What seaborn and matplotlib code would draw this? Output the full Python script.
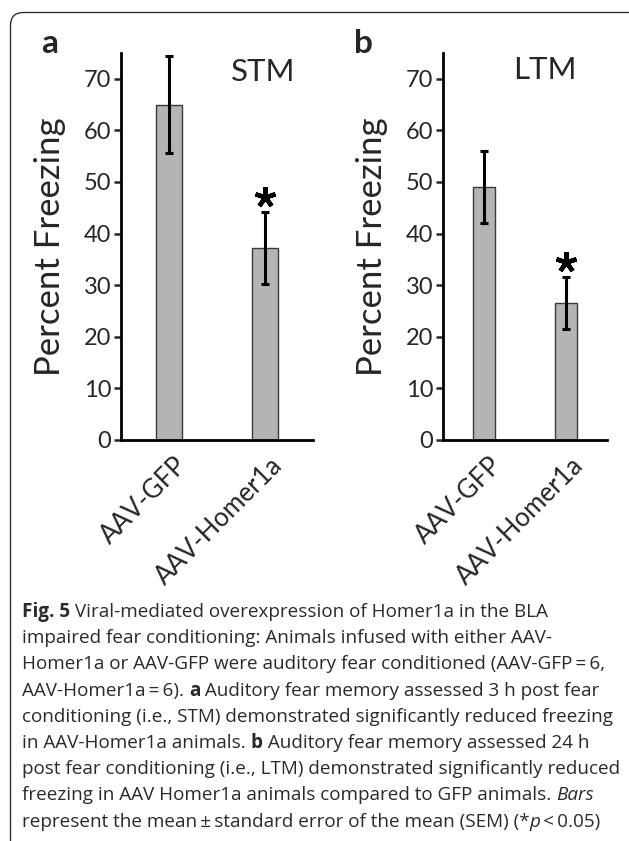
import matplotlib
matplotlib.use("Agg")
import matplotlib.pyplot as plt
import seaborn as sns
import pandas as pd
from matplotlib.patches import FancyBboxPatch

# ---- data ----
groups = ["AAV-GFP", "AAV-Homer1a"]
stm_mean = [65.0, 37.2]
stm_sem = [9.4, 7.0]
ltm_mean = [49.0, 26.5]
ltm_sem = [7.0, 5.0]
yticks = [0, 10, 20, 30, 40, 50, 60, 70]
sig = [False, True]

sns.set_style("white")
plt.rcParams['font.family'] = ['Lato', 'DejaVu Sans']

W, H = 629, 841
fig = plt.figure(figsize=(W / 100, H / 100), dpi=100)

def fx(px):
    return px / W

def fy(py):
    return 1 - py / H

bar_color = "#b4b4b4"
edge_color = "#3a3a3a"

def panel(rect, means, sems, title, title_xy, letter, letter_xy):
    ax = fig.add_axes(rect)
    df = pd.DataFrame({"group": groups, "value": means})
    sns.barplot(data=df, x="group", y="value", ax=ax, color=bar_color,
                width=0.27, edgecolor=edge_color, linewidth=1.0,
                saturation=1, errorbar=None)
    ax.errorbar(range(len(groups)), means, yerr=sems, fmt="none",
                ecolor="black", elinewidth=2.2, capsize=2.6, capthick=2.2)
    for i, (m, s, g) in enumerate(zip(means, sems, sig)):
        if g:
            ax.plot(i, m + s + 2.9, marker=(5, 2, 0), markersize=15,
                    markeredgewidth=3.2, color="black", clip_on=False)
    ax.set_xlim(-0.5, 1.5)
    ax.set_ylim(0, 75)
    ax.set_yticks(yticks)
    ax.set_xlabel("")
    ax.set_ylabel("Percent Freezing", fontsize=25, labelpad=13)
    sns.despine(ax=ax)
    for sp in ("left", "bottom"):
        ax.spines[sp].set_linewidth(2.0)
        ax.spines[sp].set_color("black")
    ax.tick_params(axis="y", direction="out", length=5, width=1.8,
                   labelsize=17, pad=2, left=True)
    ax.tick_params(axis="x", length=0, pad=9, labelsize=18.5)
    ax.set_xticks(range(len(groups)))
    ax.set_xticklabels(groups, rotation=45, ha="right",
                       rotation_mode="anchor")
    for lab in ax.get_xticklabels():
        lab.set_transform(lab.get_transform() +
                          matplotlib.transforms.ScaledTranslation(0.05, 0, fig.dpi_scale_trans))
    fig.text(fx(title_xy[0]), fy(title_xy[1]), title, fontsize=22.5,
             ha="left", va="baseline")
    fig.text(fx(letter_xy[0]), fy(letter_xy[1]), letter, fontsize=24,
             fontweight="bold", ha="left", va="baseline")
    return ax

ax_a = panel([fx(121), fy(440), fx(313) - fx(121), fy(53) - fy(440)],
             stm_mean, stm_sem, "STM", (231, 81), "a", (41, 53))
ax_b = panel([fx(443), fy(440), fx(607) - fx(443), fy(53) - fy(440)],
             ltm_mean, ltm_sem, "LTM", (513, 79), "b", (354, 53))

# ---- caption ----
cap_lines = [
    [("Fig. 5", "bold", "normal"), (" Viral-mediated overexpression of Homer1a in the BLA", "normal", "normal")],
    [("impaired fear conditioning: Animals infused with either AAV-", "normal", "normal")],
    [("Homer1a or AAV-GFP were auditory fear conditioned (AAV-GFP\u2009=\u20096,", "normal", "normal")],
    [("AAV-Homer1a\u2009=\u20096). ", "normal", "normal"), ("a", "bold", "normal"),
     (" Auditory fear memory assessed 3 h post fear", "normal", "normal")],
    [("conditioning (i.e., STM) demonstrated significantly reduced freezing", "normal", "normal")],
    [("in AAV-Homer1a animals. ", "normal", "normal"), ("b", "bold", "normal"),
     (" Auditory fear memory assessed 24 h", "normal", "normal")],
    [("post fear conditioning (i.e., LTM) demonstrated significantly reduced", "normal", "normal")],
    [("freezing in AAV Homer1a animals compared to GFP animals. ", "normal", "normal"),
     ("Bars", "normal", "italic")],
    [("represent the mean\u2009\u00b1\u2009standard error of the mean (SEM) (*", "normal", "normal"),
     ("p", "normal", "italic"), ("\u2009<\u20090.05)", "normal", "normal")],
]

renderer = fig.canvas.get_renderer()
cap_size = 13.6
y0 = 617
dy = 26.2
for li, segs in enumerate(cap_lines):
    xpix = 22
    ypix = y0 + li * dy
    for txt, wt, st in segs:
        t = fig.text(fx(xpix), fy(ypix), txt, fontsize=cap_size, fontweight=wt,
                     fontstyle=st, ha="left", va="baseline", color="#2a2a2a",
                     family=["Open Sans", "DejaVu Sans"])
        bb = t.get_window_extent(renderer=renderer)
        xpix += bb.width

# ---- border ----
border = FancyBboxPatch((10.5 / 100, -0.3), (W + 20) / 100 - 0.105, (H - 12.5) / 100 + 0.3,
                        boxstyle="round,pad=0,rounding_size=0.13",
                        transform=fig.dpi_scale_trans, fill=False,
                        edgecolor="#333333", linewidth=1.0, clip_on=False)
fig.patches.append(border)

fig.savefig("out.png", dpi=100)
